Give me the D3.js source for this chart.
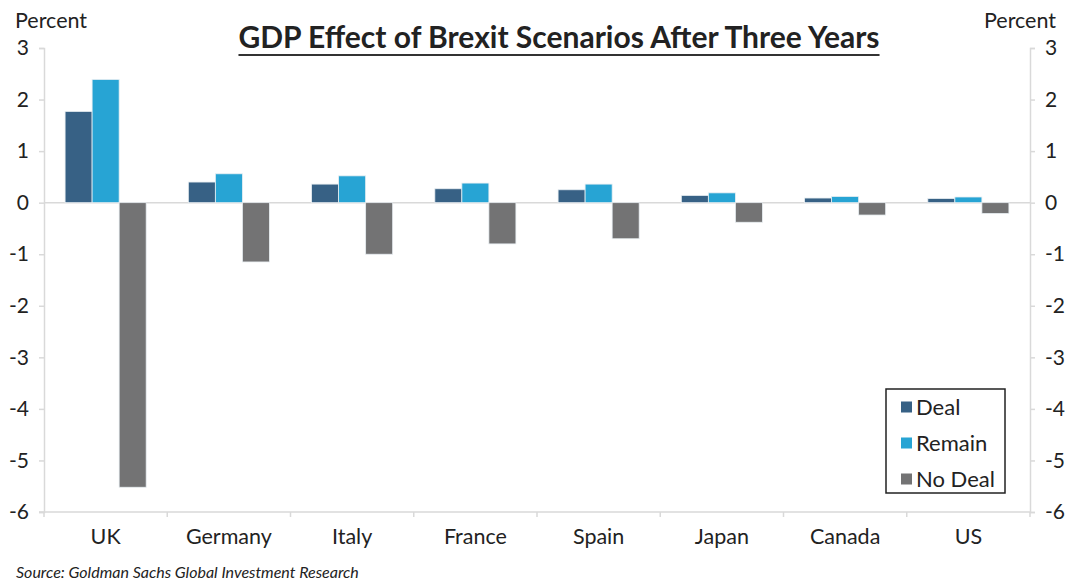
<!DOCTYPE html>
<html>
<head>
<meta charset="utf-8">
<script src="https://cdn.jsdelivr.net/npm/d3@7/dist/d3.min.js"></script>
<style>
  html, body { margin: 0; padding: 0; background: #fff; }
  svg { display: block; font-family: Lato, "Open Sans", sans-serif; }
</style>
</head>
<body>
<svg id="chart" width="1073" height="580"></svg>
<script>
// Countries along the x axis
const categories = ["UK", "Germany", "Italy", "France", "Spain", "Japan", "Canada", "US"];
// Scenario names
const seriesNames = ["Deal", "Remain", "No Deal"];
// GDP effect after three years, percent
const dealValues   = [1.77, 0.40, 0.36, 0.27, 0.25, 0.14, 0.09, 0.08];
const remainValues = [2.39, 0.56, 0.52, 0.38, 0.36, 0.19, 0.12, 0.11];
const noDealValues = [-5.52, -1.15, -1.00, -0.80, -0.70, -0.38, -0.24, -0.21];
// Y axis ticks
const yTicks = [3, 2, 1, 0, -1, -2, -3, -4, -5, -6];

const colors = { "Deal": "#376185", "Remain": "#27a4d4", "No Deal": "#737374" };
const seriesValues = { "Deal": dealValues, "Remain": remainValues, "No Deal": noDealValues };

const svg = d3.select("#chart");
const margin = { left: 44, right: 1030, top: 48, bottom: 512 };

const x0 = d3.scaleBand().domain(categories).range([margin.left, margin.right]).paddingInner(0).paddingOuter(0);
const x1 = d3.scaleBand().domain(seriesNames).range([0, x0.bandwidth()]).paddingOuter(0.78).paddingInner(0);
const y = d3.scaleLinear().domain([-6, 3]).range([margin.bottom, margin.top]);

const axisColor = "#d9d9d9";
const textColor = "#222";
const fmt = d => String(d);   // plain hyphen for negatives

// Zero line
svg.append("line")
  .attr("x1", margin.left).attr("x2", margin.right)
  .attr("y1", y(0)).attr("y2", y(0))
  .attr("stroke", axisColor).attr("stroke-width", 1.5);

// Bars
const groups = svg.append("g").selectAll("g")
  .data(categories)
  .join("g")
  .attr("transform", d => `translate(${x0(d)},0)`);

groups.selectAll("rect")
  .data((d, i) => seriesNames.map(s => ({ s, v: seriesValues[s][i] })))
  .join("rect")
  .attr("x", d => x1(d.s))
  .attr("width", x1.bandwidth())
  .attr("y", d => y(Math.max(0, d.v)))
  .attr("height", d => Math.abs(y(d.v) - y(0)))
  .attr("fill", d => colors[d.s])
  .attr("stroke", "#e8eef2")
  .attr("stroke-width", 0.8);

// Left axis
const leftAxis = svg.append("g")
  .attr("transform", `translate(${margin.left},0)`)
  .call(d3.axisLeft(y).tickValues(yTicks).tickSize(5).tickPadding(10).tickFormat(fmt));
// Right axis
const rightAxis = svg.append("g")
  .attr("transform", `translate(${margin.right},0)`)
  .call(d3.axisRight(y).tickValues(yTicks).tickSize(5).tickPadding(10).tickFormat(fmt));

[leftAxis, rightAxis].forEach(a => {
  a.select(".domain").attr("stroke", axisColor).attr("stroke-width", 1.5);
  a.selectAll(".tick line").attr("stroke", axisColor).attr("stroke-width", 1.5);
  a.selectAll(".tick text").attr("fill", textColor).style("font-size", "21px").style("font-family", "Lato, sans-serif");
});

// Bottom axis with category boundaries
const bottom = svg.append("g");
bottom.append("line")
  .attr("x1", margin.left - 5).attr("x2", margin.right)
  .attr("y1", y(-6)).attr("y2", y(-6))
  .attr("stroke", axisColor).attr("stroke-width", 1.5);
const boundaries = categories.map(c => x0(c)).concat([margin.right]);
bottom.selectAll("line.b")
  .data(boundaries)
  .join("line")
  .attr("class", "b")
  .attr("x1", d => d).attr("x2", d => d)
  .attr("y1", y(-6)).attr("y2", y(-6) + 5)
  .attr("stroke", axisColor).attr("stroke-width", 1.5);
bottom.selectAll("text")
  .data(categories)
  .join("text")
  .attr("x", d => x0(d) + x0.bandwidth() / 2)
  .attr("y", 544)
  .attr("text-anchor", "middle")
  .attr("fill", textColor)
  .style("font-size", "21.5px")
  .text(d => d);

// Axis unit labels
svg.append("text").attr("x", 15).attr("y", 28).attr("fill", textColor)
  .style("font-size", "21.5px").text("Percent");
svg.append("text").attr("x", 1056).attr("y", 28).attr("text-anchor", "end").attr("fill", textColor)
  .style("font-size", "21.5px").text("Percent");

// Title with underline
const title = svg.append("text")
  .attr("x", 559).attr("y", 48)
  .attr("text-anchor", "middle")
  .attr("fill", textColor)
  .style("font-size", "30px").style("font-weight", "bold")
  .text("GDP Effect of Brexit Scenarios After Three Years");
const tb = title.node().getBBox();
svg.append("line")
  .attr("x1", tb.x).attr("x2", tb.x + tb.width)
  .attr("y1", 55).attr("y2", 55)
  .attr("stroke", "#333").attr("stroke-width", 2);

// Legend
const legend = svg.append("g").attr("transform", "translate(886,389)");
legend.append("rect")
  .attr("width", 119).attr("height", 104)
  .attr("fill", "#fff").attr("stroke", "#222").attr("stroke-width", 1.5);
seriesNames.forEach((s, i) => {
  const cy = 18 + i * 36;
  legend.append("rect")
    .attr("x", 15).attr("y", cy - 5.5).attr("width", 11).attr("height", 11)
    .attr("fill", colors[s]);
  legend.append("text")
    .attr("x", 30).attr("y", cy + 8)
    .attr("fill", textColor)
    .style("font-size", "22px")
    .text(s);
});

// Source note
svg.append("text")
  .attr("x", 16).attr("y", 578)
  .attr("fill", textColor)
  .style("font-size", "16px").style("font-style", "italic")
  .text("Source: Goldman Sachs Global Investment Research");
</script>
</body>
</html>
